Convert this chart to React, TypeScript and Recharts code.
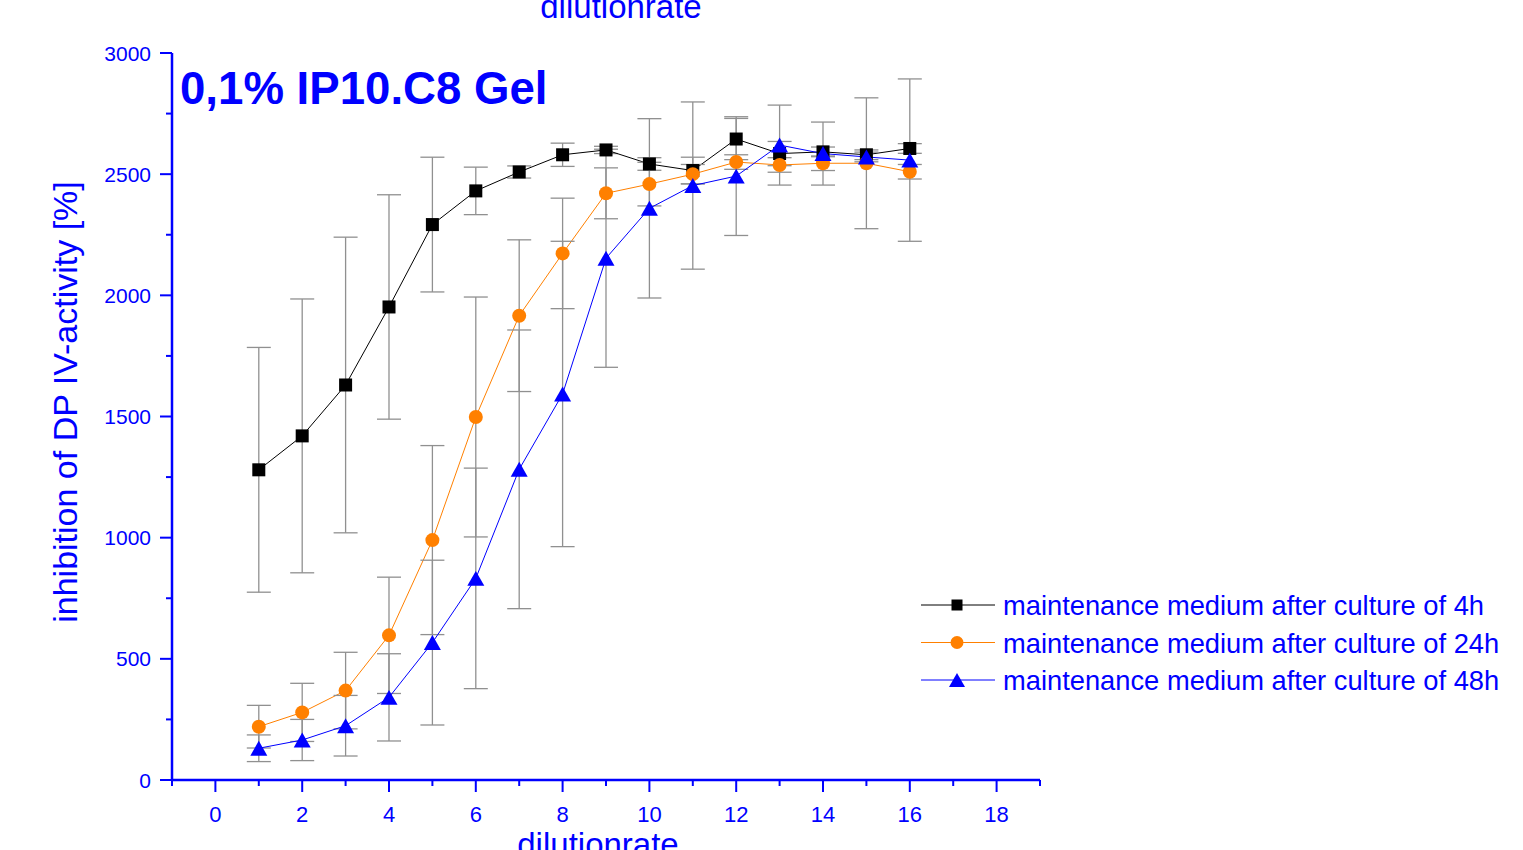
import { LineChart, Line, XAxis, YAxis, ErrorBar, Legend, Customized } from 'recharts';

// dilution steps on the x axis
const dilution = [1, 2, 3, 4, 5, 6, 7, 8, 9, 10, 11, 12, 13, 14, 15, 16];

// maintenance medium after culture of 4h
const culture4h = [1280, 1420, 1630, 1952, 2292, 2431, 2509, 2580, 2600, 2542, 2515, 2645, 2585, 2592, 2580, 2606];
const culture4hErr = [505, 565, 610, 463, 278, 98, 25, 48, 15, 26, 55, 85, 50, 20, 20, 20];

// maintenance medium after culture of 24h
const culture24h = [220, 279, 369, 597, 990, 1498, 1916, 2173, 2421, 2459, 2500, 2550, 2538, 2545, 2545, 2510];
const culture24hErr = [88, 120, 158, 240, 390, 495, 313, 228, 105, 90, 40, 30, 30, 30, 270, 30];

// maintenance medium after culture of 48h
const culture48h = [131, 165, 224, 341, 567, 832, 1282, 1593, 2153, 2359, 2453, 2492, 2620, 2585, 2571, 2558];
const culture48hErr = [55, 85, 125, 180, 340, 455, 575, 630, 450, 370, 345, 245, 165, 130, 20, 335];

const xTicks = [-1, 0, 1, 2, 3, 4, 5, 6, 7, 8, 9, 10, 11, 12, 13, 14, 15, 16, 17, 18, 19];
const yTicks = [0, 250, 500, 750, 1000, 1250, 1500, 1750, 2000, 2250, 2500, 2750, 3000];

const BLUE = '#0000ff';
const ORANGE = '#ff8000';
const FONT = '"Liberation Sans", Arial, sans-serif';

const data = dilution.map((d, i) => ({
  d,
  v4: culture4h[i],
  e4: culture4hErr[i],
  v24: culture24h[i],
  e24: culture24hErr[i],
  v48: culture48h[i],
  e48: culture48hErr[i],
}));

function Square({ cx, cy, s }: { cx: number; cy: number; s: number }) {
  return <rect x={cx - s / 2} y={cy - s / 2} width={s} height={s} fill="#000" />;
}

function Dot({ cx, cy, r }: { cx: number; cy: number; r: number }) {
  return <circle cx={cx} cy={cy} r={r} fill={ORANGE} />;
}

function Triangle({ cx, cy, w }: { cx: number; cy: number; w: number }) {
  const h = w * 0.88;
  return (
    <polygon
      points={`${cx},${cy - h / 2} ${cx - w / 2},${cy + h / 2} ${cx + w / 2},${cy + h / 2}`}
      fill={BLUE}
    />
  );
}

function XTick(props: any) {
  const { x, y, payload } = props;
  const major = payload.value % 2 === 0;
  return (
    <g>
      <line x1={x} y1={y} x2={x} y2={y + (major ? 12 : 6)} stroke={BLUE} strokeWidth={2} />
      {major && (
        <text x={x} y={y + 42} textAnchor="middle" fill={BLUE} fontSize={22} fontFamily={FONT}>
          {payload.value}
        </text>
      )}
    </g>
  );
}

function YTick(props: any) {
  const { x, y, payload } = props;
  const major = payload.value % 500 === 0;
  return (
    <g>
      <line x1={x} y1={y} x2={x - (major ? 12 : 6)} y2={y} stroke={BLUE} strokeWidth={2} />
      {major && (
        <text x={x - 21} y={y} dy="0.36em" textAnchor="end" fill={BLUE} fontSize={21} fontFamily={FONT}>
          {payload.value}
        </text>
      )}
    </g>
  );
}

const legendRows = [
  { label: 'maintenance medium after culture of 4h', color: '#000', kind: 'square' },
  { label: 'maintenance medium after culture of 24h', color: ORANGE, kind: 'circle' },
  { label: 'maintenance medium after culture of 48h', color: BLUE, kind: 'triangle' },
];

function LegendContent() {
  return (
    <svg width={608} height={115}>
      {legendRows.map((row, i) => {
        const cy = 20 + i * 37.5;
        return (
          <g key={row.label}>
            <line x1={6} y1={cy} x2={80} y2={cy} stroke={row.color} strokeWidth={1} />
            {row.kind === 'square' && <Square cx={42} cy={cy} s={11} />}
            {row.kind === 'circle' && <Dot cx={42} cy={cy} r={6.5} />}
            {row.kind === 'triangle' && <Triangle cx={42} cy={cy} w={16} />}
            <text x={88} y={cy + 10} fill={BLUE} fontSize={27.3} fontFamily={FONT}>
              {row.label}
            </text>
          </g>
        );
      })}
    </svg>
  );
}

function Titles() {
  return (
    <g fontFamily={FONT} fill={BLUE}>
      <text x={621} y={18} textAnchor="middle" fontSize={33}>dilutionrate</text>
      <text x={180} y={104} fontSize={45.6} fontWeight="bold">0,1% IP10.C8 Gel</text>
      <text x={598} y={856} textAnchor="middle" fontSize={33}>dilutionrate</text>
      <text x={77} y={402} textAnchor="middle" fontSize={34} transform="rotate(-90 77 402)">
        inhibition of DP IV-activity [%]
      </text>
    </g>
  );
}

export default function App() {
  return (
    <div style={{ position: 'absolute', left: 0, top: 0, width: 1523, height: 850, background: '#fff' }}>
      <LineChart width={1523} height={850} data={data} margin={{ top: 53, right: 483, bottom: 0, left: 0 }}>
        <XAxis
          dataKey="d"
          type="number"
          domain={[-1, 19]}
          ticks={xTicks}
          interval={0}
          height={70}
          tickSize={0}
          tickMargin={0}
          tickLine={false}
          axisLine={{ stroke: BLUE, strokeWidth: 2.5 }}
          tick={<XTick />}
        />
        <YAxis
          type="number"
          domain={[0, 3000]}
          ticks={yTicks}
          interval={0}
          width={172}
          tickSize={0}
          tickMargin={0}
          tickLine={false}
          axisLine={{ stroke: BLUE, strokeWidth: 2.5 }}
          tick={<YTick />}
        />
        <Line
          dataKey="v4"
          stroke="#000"
          strokeWidth={1}
          isAnimationActive={false}
          activeDot={false}
          dot={(p: any) => <Square key={`s${p.index}`} cx={p.cx} cy={p.cy} s={13} />}
        >
          <ErrorBar dataKey="e4" direction="y" width={12} stroke="#909090" strokeWidth={1.3} />
        </Line>
        <Line
          dataKey="v24"
          stroke={ORANGE}
          strokeWidth={1}
          isAnimationActive={false}
          activeDot={false}
          dot={(p: any) => <Dot key={`c${p.index}`} cx={p.cx} cy={p.cy} r={7} />}
        >
          <ErrorBar dataKey="e24" direction="y" width={12} stroke="#909090" strokeWidth={1.3} />
        </Line>
        <Line
          dataKey="v48"
          stroke={BLUE}
          strokeWidth={1}
          isAnimationActive={false}
          activeDot={false}
          dot={(p: any) => <Triangle key={`t${p.index}`} cx={p.cx} cy={p.cy} w={17} />}
        >
          <ErrorBar dataKey="e48" direction="y" width={12} stroke="#909090" strokeWidth={1.3} />
        </Line>
        <Legend
          layout="vertical"
          align="center"
          verticalAlign="middle"
          content={<LegendContent />}
          wrapperStyle={{ left: 915, top: 585, width: 608, height: 115 }}
        />
        <Customized component={<Titles />} />
      </LineChart>
    </div>
  );
}
